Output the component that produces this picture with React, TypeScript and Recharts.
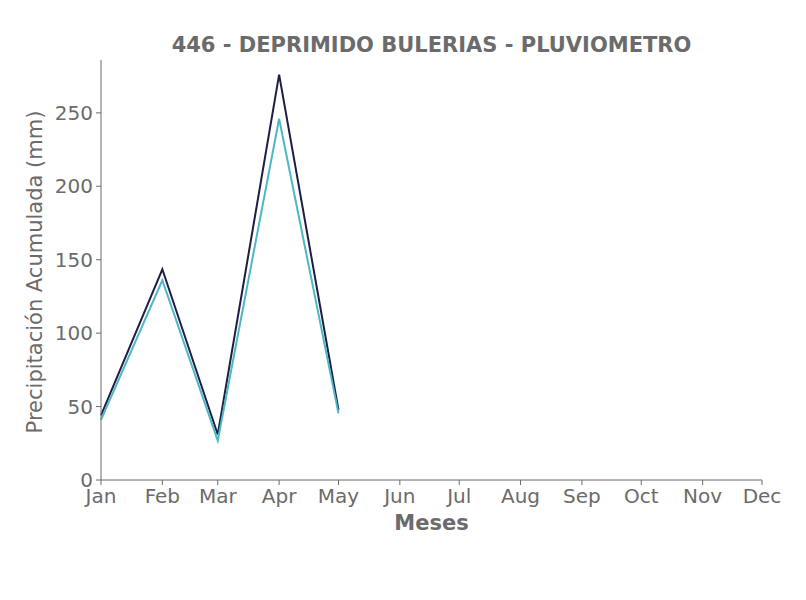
import { LineChart, Line, XAxis, YAxis, Label } from "recharts";

const FONT = "'DejaVu Sans', sans-serif";
const GRAY = "#6b6b6b";

// month start, as day of year
const monthDays = [0, 31, 59, 90, 120, 151, 181, 212, 243, 273, 304, 334];
const monthNames = ["Jan", "Feb", "Mar", "Apr", "May", "Jun", "Jul", "Aug", "Sep", "Oct", "Nov", "Dec"];
const yTicks = [0, 50, 100, 150, 200, 250];

// accumulated precipitation, Jan..May
const seriesA = [44, 143.5, 31, 276, 47.7];
const seriesB = [41, 136, 26.8, 246, 45.4];

const data = seriesA.map((a, i) => ({ day: monthDays[i], a, b: seriesB[i] }));

export default function App() {
  return (
    <div style={{ position: "absolute", left: 0, top: 0, width: 806, height: 600, background: "#fff" }}>
      <div
        style={{
          position: "absolute",
          left: 101,
          width: 661,
          top: 31,
          textAlign: "center",
          fontFamily: FONT,
          fontWeight: "bold",
          fontSize: 21,
          color: GRAY,
          lineHeight: "28px",
        }}
      >
        446 - DEPRIMIDO BULERIAS - PLUVIOMETRO
      </div>
      <LineChart
        width={806}
        height={600}
        data={data}
        margin={{ top: 60, right: 44, bottom: 80, left: 30 }}
        style={{ fontFamily: FONT }}
      >
        <XAxis
          dataKey="day"
          type="number"
          domain={[0, 334]}
          ticks={monthDays}
          tickFormatter={(v) => monthNames[monthDays.indexOf(Number(v))]}
          stroke={GRAY}
          tick={{ fill: GRAY, fontSize: 20 }}
          tickSize={5}
          tickMargin={4}
          height={40}
          interval={0}
        >
          <Label
            content={({ viewBox }: any) => (
              <text
                x={viewBox.x + viewBox.width / 2}
                y={viewBox.y + 50}
                textAnchor="middle"
                fill={GRAY}
                fontSize={21}
                fontWeight="bold"
                fontFamily={FONT}
              >
                Meses
              </text>
            )}
          />
        </XAxis>
        <YAxis
          domain={[0, 286]}
          ticks={yTicks}
          stroke={GRAY}
          tick={{ fill: GRAY, fontSize: 20 }}
          tickSize={5}
          tickMargin={3}
          width={71}
        >
          <Label
            content={({ viewBox }: any) => (
              <text
                x={0}
                y={0}
                transform={`translate(${viewBox.x + 5}, ${viewBox.y + viewBox.height / 2 + 2}) rotate(-90)`}
                textAnchor="middle"
                dominantBaseline="central"
                fill={GRAY}
                fontSize={21}
                fontFamily={FONT}
              >
                Precipitación Acumulada (mm)
              </text>
            )}
          />
        </YAxis>
        <Line dataKey="a" stroke="#1e1d45" strokeWidth={2} dot={false} isAnimationActive={false} />
        <Line dataKey="b" stroke="#4db8c4" strokeWidth={2} dot={false} isAnimationActive={false} />
      </LineChart>
    </div>
  );
}
